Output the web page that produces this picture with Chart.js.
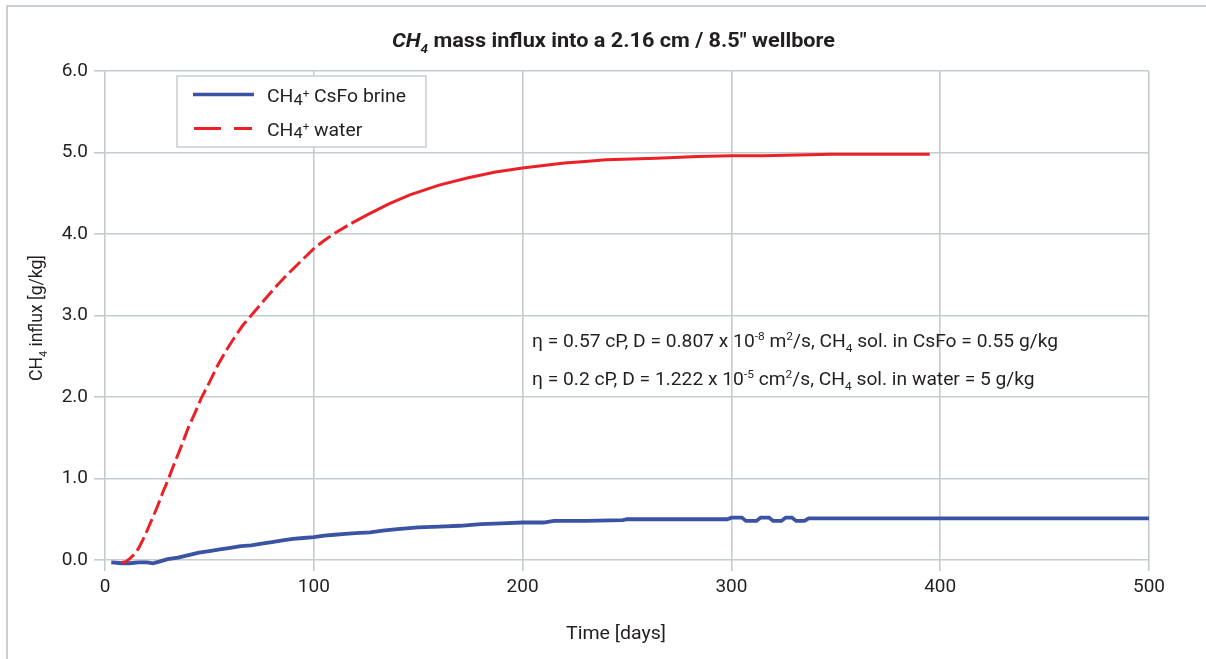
<!DOCTYPE html>
<html>
<head>
<meta charset="utf-8">
<script src="https://cdn.jsdelivr.net/npm/chart.js@4.4.1/dist/chart.umd.min.js"></script>
<style>
  html, body { margin: 0; padding: 0; background: #ffffff; }
  #wrap { width: 1206px; height: 659px; }
</style>
</head>
<body>
<div id="wrap"><canvas id="c" width="1206" height="659"></canvas></div>
<script>
// ---- data ----
const waterDays = [8, 10, 12, 14, 16, 18, 20, 22, 25, 28, 30, 33, 36, 40, 43, 46, 50, 54, 58, 62, 66, 71, 76, 82, 88, 94, 100, 105, 110, 118, 126, 136, 146, 160, 174, 187, 200, 210, 220, 230, 240, 252, 264, 284, 300, 315, 332, 348, 370, 395];
const waterInflux = [-0.03, -0.02, 0.02, 0.07, 0.14, 0.24, 0.35, 0.47, 0.65, 0.85, 0.97, 1.17, 1.36, 1.63, 1.80, 1.98, 2.18, 2.39, 2.57, 2.73, 2.88, 3.03, 3.18, 3.36, 3.52, 3.67, 3.82, 3.92, 4.01, 4.13, 4.24, 4.37, 4.48, 4.60, 4.69, 4.76, 4.81, 4.84, 4.87, 4.89, 4.91, 4.92, 4.93, 4.95, 4.96, 4.96, 4.97, 4.98, 4.98, 4.98];

const brineDays = [3, 8, 12, 16, 20, 23, 26, 30, 35, 40, 45, 50, 55, 60, 65, 70, 75, 80, 85, 90, 95, 100, 105, 110, 115, 120, 127, 133, 140, 150, 160, 170, 180, 190, 200, 210, 215, 230, 248, 250, 298, 300, 305, 307, 312, 314, 318, 320, 324, 326, 329, 331, 335, 337, 400, 500];
const brineInflux = [-0.03, -0.04, -0.04, -0.03, -0.03, -0.04, -0.02, 0.01, 0.03, 0.06, 0.09, 0.11, 0.13, 0.15, 0.17, 0.18, 0.20, 0.22, 0.24, 0.26, 0.27, 0.28, 0.30, 0.31, 0.32, 0.33, 0.34, 0.36, 0.38, 0.40, 0.41, 0.42, 0.44, 0.45, 0.46, 0.46, 0.48, 0.48, 0.49, 0.50, 0.50, 0.52, 0.52, 0.48, 0.48, 0.52, 0.52, 0.48, 0.48, 0.52, 0.52, 0.48, 0.48, 0.51, 0.51, 0.51];

const xTicks = [0, 100, 200, 300, 400, 500];
const yTicks = [0, 1, 2, 3, 4, 5, 6];

const seriesLabels = ['CH4+ CsFo brine', 'CH4+ water'];

// ---- rich text helpers (sub/superscripts) ----
const FAM = 'Roboto';
function segFont(o, s) {
  const st = s.i ? 'italic' : (o.style || 'normal');
  const sz = o.size * (s.r || 1);
  return st + ' ' + (o.weight || 400) + ' ' + sz + 'px ' + FAM;
}
function measureRich(ctx, segs, o) {
  let w = 0;
  for (const s of segs) { ctx.font = segFont(o, s); w += ctx.measureText(s.t).width; }
  return w;
}
function drawRich(ctx, segs, x, y, o) {
  const w = measureRich(ctx, segs, o);
  const sx = o.sx ? o.sx : (o.fit ? o.fit / w : 1);
  const total = w * sx;
  const start = o.align === 'center' ? x - total / 2 : x;
  ctx.save();
  ctx.translate(start, y);
  ctx.scale(sx, 1);
  ctx.fillStyle = o.color || '#231f20';
  ctx.textAlign = 'left';
  ctx.textBaseline = 'alphabetic';
  let cx = 0;
  for (const s of segs) {
    ctx.font = segFont(o, s);
    ctx.fillText(s.t, cx, (s.dy || 0) * o.size);
    cx += ctx.measureText(s.t).width;
  }
  ctx.restore();
  return sx;
}
const SUB = (t) => ({ t: t, r: 0.62, dy: 0.3 });
const SUP = (t) => ({ t: t, r: 0.62, dy: -0.4 });

const decorPlugin = {
  id: 'decor',
  beforeDraw(chart) {
    const ctx = chart.ctx;
    ctx.save();
    ctx.strokeStyle = '#c8ced2';
    ctx.lineWidth = 2;
    ctx.beginPath();
    ctx.moveTo(7, 659); ctx.lineTo(7, 6); ctx.lineTo(1206, 6);
    ctx.stroke();
    ctx.restore();
  },
  afterDraw(chart) {
    const ctx = chart.ctx;
    // title
    drawRich(ctx, [{ t: 'CH', i: 1 }, { t: '4', i: 1, r: 0.62, dy: 0.3 }, { t: ' mass influx into a 2.16 cm / 8.5" wellbore' }],
      613.5, 47, { size: 20.5, weight: 700, align: 'center', fit: 443 });

    // legend box
    ctx.save();
    ctx.fillStyle = '#ffffff';
    ctx.strokeStyle = '#c8ced2';
    ctx.lineWidth = 1.5;
    ctx.fillRect(177, 76, 249, 71);
    ctx.strokeRect(177, 76, 249, 71);
    const ds = chart.data.datasets;
    ctx.lineCap = 'butt';
    ctx.strokeStyle = ds[1].borderColor;
    ctx.lineWidth = 3.5;
    ctx.beginPath(); ctx.moveTo(193, 94.5); ctx.lineTo(254, 94.5); ctx.stroke();
    ctx.strokeStyle = ds[0].borderColor;
    ctx.lineWidth = 3;
    ctx.beginPath(); ctx.moveTo(194, 128.5); ctx.lineTo(221, 128.5); ctx.moveTo(234, 128.5); ctx.lineTo(252, 128.5); ctx.stroke();
    ctx.restore();
    const legSeg = (rest) => [{ t: 'CH' }, { t: '4', r: 0.85, dy: 0.15 }, { t: '+', r: 0.6, dy: -0.28 }, { t: rest }];
    const lsx = drawRich(ctx, legSeg(' CsFo brine'), 267, 102, { size: 18, fit: 139 });
    drawRich(ctx, legSeg(' water'), 267, 135.5, { size: 18, sx: lsx });

    // annotation
    const asx = drawRich(ctx, [{ t: '\u03b7 = 0.57 cP, D = 0.807 x 10' }, SUP('-8'), { t: ' m' }, SUP('2'), { t: '/s, CH' }, SUB('4'), { t: ' sol. in CsFo = 0.55 g/kg' }],
      532, 347, { size: 18, fit: 526 });
    drawRich(ctx, [{ t: '\u03b7 = 0.2 cP, D = 1.222 x 10' }, SUP('-5'), { t: ' cm' }, SUP('2'), { t: '/s, CH' }, SUB('4'), { t: ' sol. in water = 5 g/kg' }],
      532, 385, { size: 18, sx: asx });

    // axis titles
    ctx.save();
    ctx.translate(42, 318);
    ctx.rotate(-Math.PI / 2);
    drawRich(ctx, [{ t: 'CH' }, SUB('4'), { t: ' influx [g/kg]' }], 0, 0, { size: 18, align: 'center', fit: 126 });
    ctx.restore();
    drawRich(ctx, [{ t: 'Time [days]' }], 616, 639, { size: 18, align: 'center', fit: 100 });
  }
};

const GRID = '#c5ccd0';
const chart = new Chart(document.getElementById('c'), {
  type: 'line',
  data: {
    datasets: [
      {
        label: seriesLabels[1],
        data: waterDays.map((d, i) => ({ x: d, y: waterInflux[i] })),
        borderColor: '#ec2127',
        borderWidth: 3,
        pointRadius: 0,
        tension: 0,
        clip: false,
        segment: { borderDash: (c) => (c.p0.parsed.x < 112 ? [15, 5] : []) }
      },
      {
        label: seriesLabels[0],
        data: brineDays.map((d, i) => ({ x: d, y: brineInflux[i] })),
        borderColor: '#3a53a4',
        borderWidth: 3.8,
        pointRadius: 0,
        tension: 0,
        clip: false
      }
    ]
  },
  options: {
    responsive: false,
    animation: false,
    events: [],
    layout: { padding: { top: 71, right: 57, left: 0, bottom: 0 } },
    plugins: { legend: { display: false }, title: { display: false }, tooltip: { enabled: false } },
    scales: {
      x: {
        type: 'linear', min: xTicks[0], max: xTicks[xTicks.length - 1],
        afterBuildTicks: (s) => { s.ticks = xTicks.map(v => ({ value: v })); },
        ticks: { font: { family: FAM, size: 19 }, color: '#231f20', padding: 5, maxRotation: 0 },
        grid: { color: GRID, lineWidth: 1.6, tickLength: 11 },
        border: { display: false },
        afterFit: (s) => { s.height = 99; }
      },
      y: {
        type: 'linear', min: yTicks[0], max: yTicks[yTicks.length - 1],
        afterBuildTicks: (s) => { s.ticks = yTicks.map(v => ({ value: v })); },
        ticks: { font: { family: FAM, size: 19 }, color: '#231f20', padding: 6, callback: (v) => Number(v).toFixed(1) },
        grid: { color: GRID, lineWidth: 1.6, tickLength: 11 },
        border: { display: false },
        afterFit: (s) => { s.width = 105; }
      }
    }
  },
  plugins: [decorPlugin]
});
</script>
</body>
</html>
